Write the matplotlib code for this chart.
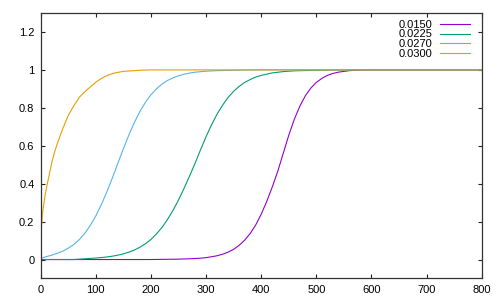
import numpy as np
import matplotlib
matplotlib.use('Agg')
import matplotlib.pyplot as plt
from matplotlib.ticker import FormatStrFormatter

plt.rcParams['font.family'] = ['Liberation Sans', 'DejaVu Sans']

# values
labels = ['0.0150', '0.0225', '0.0270', '0.0300']
colors = ['#9400d3', '#009e73', '#56b4e9', '#e69f00']

x_0150 = [0, 200, 250, 270, 290, 300, 310, 320, 330, 340, 350, 360, 370, 380, 390, 400,
          410, 420, 430, 440, 450, 460, 470, 480, 490, 500, 510, 520, 530, 540, 560,
          580, 600, 800]
y_0150 = [0.0, 0.0, 0.002, 0.004, 0.007, 0.010, 0.0145, 0.020, 0.028, 0.039, 0.054,
          0.075, 0.102, 0.137, 0.182, 0.239, 0.306, 0.382, 0.465, 0.56, 0.655, 0.739,
          0.808, 0.863, 0.904, 0.934, 0.955, 0.971, 0.981, 0.988, 0.996, 0.999, 1.0, 1.0]

x_0225 = [0, 60, 80, 100, 110, 120, 130, 140, 150, 160, 170, 180, 190, 200, 210, 220,
          230, 240, 250, 260, 270, 280, 290, 300, 310, 320, 330, 340, 350, 360, 370,
          380, 390, 400, 420, 440, 460, 500, 550, 800]
y_0225 = [0.0, 0.0, 0.004, 0.008, 0.0104, 0.0135, 0.0176, 0.023, 0.030, 0.039, 0.050,
          0.065, 0.083, 0.106, 0.135, 0.169, 0.211, 0.259, 0.314, 0.375, 0.44, 0.507,
          0.579, 0.648, 0.711, 0.767, 0.814, 0.855, 0.887, 0.913, 0.934, 0.949, 0.962,
          0.971, 0.984, 0.991, 0.995, 0.998, 1.0, 1.0]

x_0270 = [0, 10, 20, 30, 40, 50, 60, 70, 80, 90, 100, 110, 120, 130, 140, 150, 160, 170,
          180, 190, 200, 210, 220, 230, 240, 250, 260, 270, 280, 300, 320, 350, 400, 800]
y_0270 = [0.006, 0.015, 0.023, 0.033, 0.044, 0.060, 0.079, 0.105, 0.138, 0.18, 0.23,
          0.289, 0.357, 0.43, 0.508, 0.584, 0.657, 0.723, 0.781, 0.829, 0.869, 0.90,
          0.925, 0.944, 0.958, 0.969, 0.977, 0.983, 0.988, 0.993, 0.996, 0.998, 1.0, 1.0]

x_0300 = [0, 1, 2, 3, 4, 6, 8, 10, 12, 15, 20, 25, 30, 35, 40, 45, 50, 55, 60, 70, 80,
          90, 100, 110, 120, 130, 140, 150, 165, 180, 200, 800]
y_0300 = [0.10, 0.16, 0.20, 0.235, 0.26, 0.30, 0.34, 0.37, 0.40, 0.44, 0.51, 0.565,
          0.61, 0.65, 0.69, 0.725, 0.76, 0.785, 0.81, 0.855, 0.885, 0.91, 0.935, 0.955,
          0.97, 0.98, 0.987, 0.992, 0.995, 0.998, 1.0, 1.0]

series = [(x_0150, y_0150), (x_0225, y_0225), (x_0270, y_0270), (x_0300, y_0300)]

xticks = np.arange(0, 801, 100)
yticks = np.arange(0, 1.21, 0.2)

fig = plt.figure(figsize=(5, 3), dpi=100)
ax = fig.add_axes([0.0814, 0.0717, 0.882, 0.885])

for (xs, ys), lab, col in zip(series, labels, colors):
    ax.plot(xs, ys, color=col, lw=0.8, label=lab)

ax.set_xlim(0, 800)
ax.set_ylim(-0.1, 1.3)
ax.set_xticks(xticks)
ax.set_yticks(yticks)
ax.yaxis.set_major_formatter(FormatStrFormatter('%g'))
ax.tick_params(direction='in', length=3, width=0.8, top=True, right=True,
               labelsize=8, colors='#222222', labelcolor='black')
ax.tick_params(axis='x', pad=5)
ax.tick_params(axis='y', pad=4.5)
for s in ax.spines.values():
    s.set_color('#333333')
    s.set_linewidth(0.9)

ax.legend(loc='upper right', bbox_to_anchor=(0.9735, 0.975), frameon=False,
          markerfirst=False, fontsize=8, handlelength=2.7, handletextpad=0.65,
          labelspacing=-0.02, borderpad=0, borderaxespad=0)

fig.savefig('out.png', dpi=100)
